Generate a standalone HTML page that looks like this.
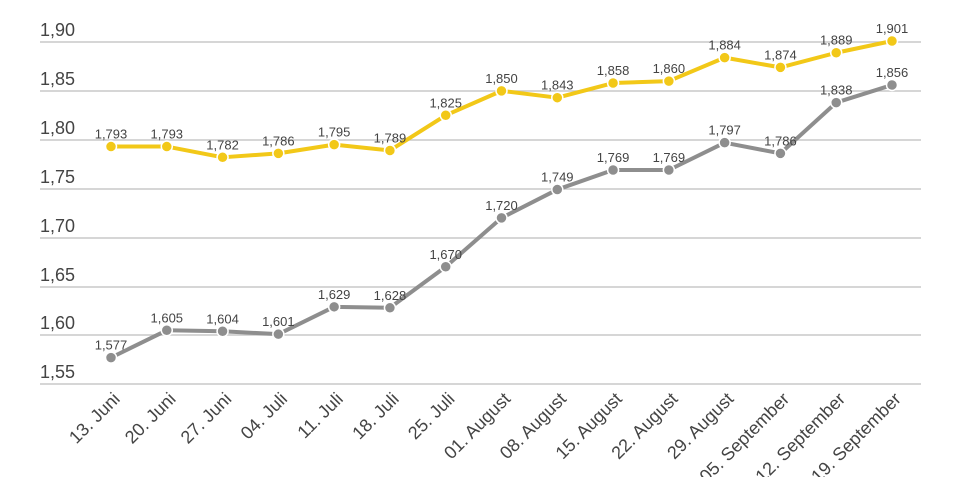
<!DOCTYPE html>
<html><head><meta charset="utf-8"><style>body{margin:0;background:#fff}svg{display:block}text{font-family:"Liberation Sans",sans-serif}</style></head><body>
<svg width="954" height="477" viewBox="0 0 954 477" xmlns="http://www.w3.org/2000/svg">
<g stroke="#c8c8c8" stroke-width="1.5">
<line x1="40" x2="921" y1="42" y2="42"/><line x1="40" x2="921" y1="91" y2="91"/><line x1="40" x2="921" y1="140" y2="140"/><line x1="40" x2="921" y1="189" y2="189"/><line x1="40" x2="921" y1="238" y2="238"/><line x1="40" x2="921" y1="287" y2="287"/><line x1="40" x2="921" y1="335" y2="335"/><line x1="40" x2="921" y1="384" y2="384"/>
</g>
<g fill="#444" font-size="18">
<text x="40" y="36">1,90</text><text x="40" y="85">1,85</text><text x="40" y="134">1,80</text><text x="40" y="183">1,75</text><text x="40" y="232">1,70</text><text x="40" y="281">1,65</text><text x="40" y="329">1,60</text><text x="40" y="378">1,55</text>
</g>
<g id="c"></g>
</svg>
<script>
const y1=[1.793,1.793,1.782,1.786,1.795,1.789,1.825,1.850,1.843,1.858,1.860,1.884,1.874,1.889,1.901];
const y2=[1.577,1.605,1.604,1.601,1.629,1.628,1.670,1.720,1.749,1.769,1.769,1.797,1.786,1.838,1.856];
const labs=["13. Juni","20. Juni","27. Juni","04. Juli","11. Juli","18. Juli","25. Juli","01. August","08. August","15. August","22. August","29. August","05. September","12. September","19. September"];
const X=i=>111+i*(892-111)/14, Y=v=>42+(1.90-v)/0.05*48.86;
let s="";
function ser(d,col){
 s+=`<polyline fill="none" stroke="${col}" stroke-width="4" stroke-linejoin="round" points="${d.map((v,i)=>X(i)+","+Y(v)).join(" ")}"/>`;
 d.forEach((v,i)=>{s+=`<circle cx="${X(i)}" cy="${Y(v)}" r="5.5" fill="${col}" stroke="#fff" stroke-width="1.5"/>`;
 s+=`<text x="${X(i)}" y="${Y(v)-8}" text-anchor="middle" font-size="13" fill="#444">${v.toFixed(3).replace(".",",")}</text>`;});
}
ser(y2,"#8e8e8e");ser(y1,"#f2c818");
labs.forEach((l,i)=>{const x=X(i)+10,y=400;s+=`<text x="${x}" y="${y}" text-anchor="end" font-size="18" fill="#444" transform="rotate(-45 ${x} ${y})">${l}</text>`;});
document.getElementById("c").innerHTML=s;
</script>
</body></html>
